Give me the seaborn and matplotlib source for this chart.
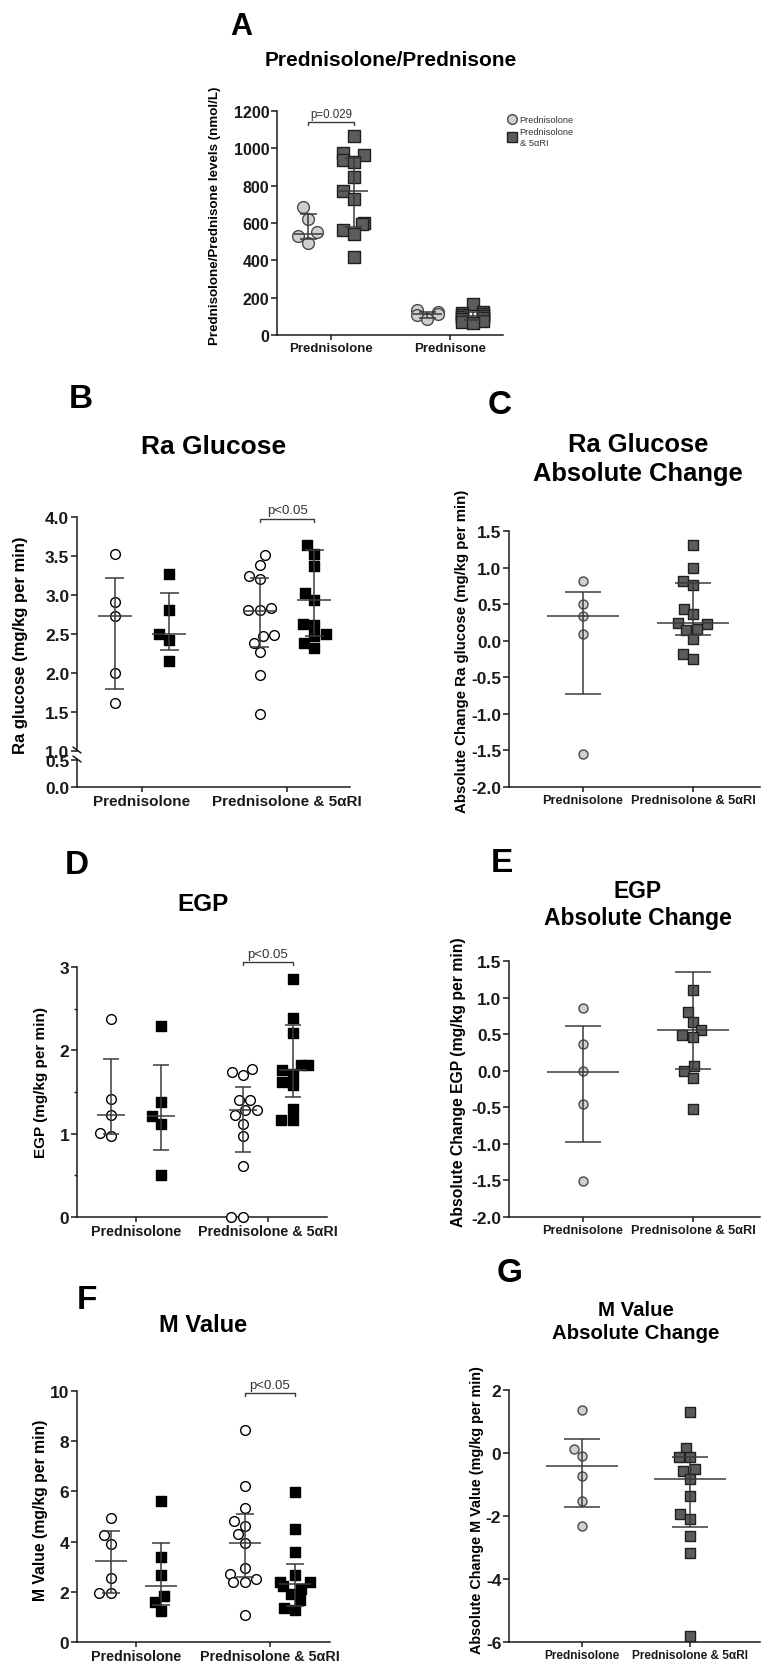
import numpy as np
import pandas as pd
import matplotlib
matplotlib.use("Agg")
import matplotlib.pyplot as plt
import seaborn as sns
from matplotlib.lines import Line2D
from matplotlib.ticker import FormatStrFormatter, MultipleLocator

# values
# A: levels in nmol/L, circles = Prednisolone, squares = Prednisolone & 5aRI
a_cats = ["Prednisolone", "Prednisone"]
a_legend = ["Prednisolone", "Prednisolone\n& 5αRI"]
a_solone_pred = [685, 620, 550, 530, 495]
a_solone_5ari = [1065, 975, 965, 935, 925, 845, 770, 730, 600, 595, 565, 540, 420]
a_sone_pred = [135, 125, 110, 105, 85]
a_sone_5ari = [165, 125, 120, 115, 105, 100, 95, 90, 85, 75, 70, 65]
a_mid = [540, 770, 110, 100]
a_low = [512, 578, 92, 82]
a_high = [650, 950, 122, 122]

# B-G: circles = before, squares = after, for each treatment arm
arm_cats = ["Prednisolone", "Prednisolone & 5αRI"]

b_pred_before = [3.52, 2.91, 2.73, 2.00, 1.61]
b_pred_after = [3.27, 2.81, 2.50, 2.42, 2.16]
b_5ari_before = [3.51, 3.38, 3.25, 3.21, 2.81, 2.81, 2.83, 2.48, 2.49, 2.39, 2.27, 1.97, 1.48]
b_5ari_after = [3.64, 3.53, 3.37, 3.02, 2.94, 2.63, 2.62, 2.50, 2.47, 2.39, 2.32]
b_mid = [2.73, 2.50, 2.80, 2.93]
b_low = [1.80, 2.30, 2.33, 2.48]
b_high = [3.22, 3.03, 3.22, 3.58]

c_pred = [0.82, 0.50, 0.34, 0.09, -1.55]
c_5ari = [1.31, 0.99, 0.81, 0.76, 0.44, 0.36, 0.24, 0.23, 0.16, 0.14, 0.03, -0.18, -0.25]
c_mid = [0.34, 0.24]
c_low = [-0.73, 0.08]
c_high = [0.66, 0.79]

d_pred_before = [2.38, 1.42, 1.22, 1.01, 0.97]
d_pred_after = [2.29, 1.38, 1.21, 1.12, 0.51]
d_5ari_before = [1.78, 1.74, 1.70, 1.41, 1.40, 1.29, 1.29, 1.22, 1.12, 0.97, 0.61, 0.0, 0.0]
d_5ari_after = [2.86, 2.39, 2.21, 1.82, 1.82, 1.77, 1.72, 1.62, 1.58, 1.30, 1.16, 1.16]
d_mid = [1.22, 1.21, 1.29, 1.77]
d_low = [1.00, 0.81, 0.78, 1.44]
d_high = [1.90, 1.83, 1.56, 2.30]

e_pred = [0.86, 0.36, -0.01, -0.45, -1.51]
e_5ari = [1.11, 0.80, 0.67, 0.55, 0.49, 0.46, 0.06, -0.01, -0.10, -0.52]
e_mid = [-0.02, 0.55]
e_low = [-0.98, 0.03]
e_high = [0.61, 1.35]

f_pred_before = [4.93, 4.26, 3.91, 2.54, 1.95, 1.95]
f_pred_after = [5.60, 3.40, 2.68, 1.85, 1.59, 1.22]
f_5ari_before = [8.45, 6.20, 5.32, 4.83, 4.64, 4.30, 3.95, 2.94, 2.72, 2.52, 2.41, 2.41, 1.06]
f_5ari_after = [5.96, 4.50, 3.58, 2.68, 2.41, 2.38, 2.25, 2.12, 1.92, 1.66, 1.35, 1.26]
f_mid = [3.22, 2.25, 3.95, 2.30]
f_low = [1.95, 1.48, 2.60, 1.45]
f_high = [4.41, 3.95, 5.09, 3.11]

g_pred = [1.37, 0.14, -0.09, -0.74, -1.51, -2.31]
g_5ari = [1.30, 0.17, -0.14, -0.14, -0.51, -0.56, -0.81, -1.36, -1.94, -2.10, -2.62, -3.18, -5.81]
g_mid = [-0.41, -0.81]
g_low = [-1.70, -2.36]
g_high = [0.44, -0.14]

# ------------------------------------------------------------------
W, H = 761, 1665
INK = "#1a1a1a"
LINE = "#3a3a3a"
OPEN = dict(marker="o", face="white", edge="black")
BLACK = dict(marker="s", face="black", edge="black")
LGREY = dict(marker="o", face="#cfcfcf", edge="#4a4a4a")
DGREY = dict(marker="s", face="#5c5c5c", edge="#1f1f1f")

sns.set_style("ticks")
plt.rcParams["font.family"] = ["Liberation Sans", "DejaVu Sans"]
plt.rcParams.update({
    "font.weight": "bold",
    "axes.labelweight": "bold",
    "axes.linewidth": 1.1,
    "axes.edgecolor": INK,
    "xtick.color": INK,
    "ytick.color": INK,
    "xtick.major.width": 1.1,
    "ytick.major.width": 1.1,
    "ytick.minor.width": 1.0,
    "xtick.major.size": 3.5,
    "ytick.major.size": 4,
    "ytick.minor.size": 2.5,
    "xtick.major.pad": 1.5,
    "ytick.major.pad": 1.5,
    "axes.unicode_minus": False,
})

fig = plt.figure(figsize=(W / 100, H / 100), dpi=100)


def px_axes(l, t, r, b):
    return fig.add_axes([l / W, 1 - b / H, (r - l) / W, (b - t) / H])


def fig_text(x, y, s, size, **kw):
    fig.text(x / W, 1 - y / H, s, ha="center", va="center", fontsize=size,
             fontweight="bold", color="black", **kw)


def swarm(ax, x, values, style, size, lw=1.0):
    df = pd.DataFrame({"x": np.full(len(values), float(x)), "y": values})
    sns.swarmplot(data=df, x="x", y="y", native_scale=True, orient="x",
                  marker=style["marker"], color=style["face"],
                  edgecolor=style["edge"], linewidth=lw, size=size,
                  warn_thresh=1, zorder=3, ax=ax)


def bars(ax, x, mid, low, high, mid_w, cap_w):
    kw = dict(color=LINE, lw=1.1, zorder=5)
    ax.vlines(x, low, high, **kw)
    ax.hlines([low, high], x - cap_w, x + cap_w, **kw)
    ax.hlines(mid, x - mid_w, x + mid_w, **kw)


def draw(ax, u, cats_x, series, styles, mids, lows, highs, size, mid_w, cap_w):
    for x, vals, st, m, lo, hi in zip(cats_x, series, styles, mids, lows, highs):
        swarm(ax, u * x, vals, st, size)
        bars(ax, u * x, m, lo, hi, u * mid_w, u * cap_w)
    for coll in ax.collections:
        coll.set_clip_on(False)


def finish(ax, u, xlim, ylim, yticks, yfmt, ytick_fs, xlabels, xtick_fs):
    sns.despine(ax=ax)
    ax.set_xlim(u * xlim[0], u * xlim[1])
    ax.set_ylim(*ylim)
    ax.set_yticks(yticks)
    if yfmt:
        ax.yaxis.set_major_formatter(FormatStrFormatter(yfmt))
    ax.tick_params(axis="y", labelsize=ytick_fs)
    if xlabels is None:
        ax.set_xticks([])
    else:
        ax.set_xticks([0, u], xlabels, fontsize=xtick_fs, fontweight="bold")
    ax.set_xlabel("")
    ax.set_ylabel("")


def ylabel(ax, text, x, y, size):
    ax.set_ylabel(text, fontsize=size, fontweight="bold", va="center", color="black")
    ax.yaxis.set_label_coords(x / W, 1 - y / H, transform=fig.transFigure)


def bracket(ax, x0, x1, y, drop, text, size):
    ax.plot([x0, x0, x1, x1], [y - drop, y, y, y - drop], color=LINE, lw=1.0,
            clip_on=False, zorder=5)
    ax.annotate(text, xy=((x0 + x1) / 2, y), xytext=(0, 1.5), textcoords="offset points",
                ha="center", va="bottom", fontsize=size, fontweight="normal", color="#333333",
                annotation_clip=False)


# ---------------- A ----------------
uA, dA = 4.44, 0.19
axA = px_axes(277, 112, 503, 336)
draw(axA, uA, [-dA, dA, 1 - dA, 1 + dA],
     [a_solone_pred, a_solone_5ari, a_sone_pred, a_sone_5ari],
     [LGREY, DGREY, LGREY, DGREY], a_mid, a_low, a_high, 8.5, 0.12, 0.07)
finish(axA, uA, (-0.454, 1.445), (0, 1200), np.arange(0, 1201, 200), None, 11.5, a_cats, 9.5)
ylabel(axA, "Prednisolone/Prednisone levels (nmol/L)", 215, 216, 9.6)
bracket(axA, -dA * uA, dA * uA, 1139, 16, "p=0.029", 8.3)
handles = [Line2D([], [], ls="", marker="o", markersize=7, markerfacecolor=LGREY["face"],
                  markeredgecolor=LGREY["edge"]),
           Line2D([], [], ls="", marker="s", markersize=7, markerfacecolor=DGREY["face"],
                  markeredgecolor=DGREY["edge"])]
axA.legend(handles, a_legend, loc="upper left", bbox_to_anchor=(507 / W, 1 - 116 / H),
           bbox_transform=fig.transFigure, frameon=False, handlelength=1.0,
           handletextpad=0.35, borderpad=0, borderaxespad=0, labelspacing=0.35,
           prop={"size": 6.7, "weight": "normal"}, labelcolor="#333333")
fig_text(241, 27, "A", 22)
fig_text(391, 60, "Prednisolone/Prednisone", 15)

# ---------------- B (broken axis) ----------------
uB, dB = 4.0, 0.187
axB = px_axes(77, 518, 350, 752)
axB0 = px_axes(77, 761, 350, 788)
draw(axB, uB, [-dB, dB, 1 - dB, 1 + dB],
     [b_pred_before, b_pred_after, b_5ari_before, b_5ari_after],
     [OPEN, BLACK, OPEN, BLACK], b_mid, b_low, b_high, 7, 0.115, 0.066)
finish(axB, uB, (-0.448, 1.434), (1.0, 4.0), np.arange(1.0, 4.01, 0.5), "%.1f", 12.5, None, 11)
axB.spines["bottom"].set_visible(False)
finish(axB0, uB, (-0.448, 1.434), (0, 0.5), [0.0, 0.5], "%.1f", 12.5, arm_cats, 11)
ylabel(axB, "Ra glucose (mg/kg per min)", 21, 645, 12)
bracket(axB, (1 - dB) * uB, (1 + dB) * uB, 3.98, 0.04, "p<0.05", 9.5)
for y0 in (748, 757):
    fig.add_artist(Line2D([73 / W, 81 / W], [1 - y0 / H, 1 - (y0 + 6) / H],
                          color=INK, lw=1.1, transform=fig.transFigure))
fig_text(81, 400, "B", 24)
fig_text(214, 447, "Ra Glucose", 19)

# ---------------- C ----------------
uC = 2.67
axC = px_axes(509, 532, 760, 788)
draw(axC, uC, [0, 1], [c_pred, c_5ari], [LGREY, DGREY], c_mid, c_low, c_high, 6.5, 0.33, 0.16)
finish(axC, uC, (-0.673, 1.61), (-2.0, 1.5), np.arange(-2.0, 1.51, 0.5), "%.1f", 12.5, arm_cats, 9.2)
ylabel(axC, "Absolute Change Ra glucose (mg/kg per min)", 462, 651, 10.8)
fig_text(500, 406, "C", 24)
fig_text(638, 445, "Ra Glucose", 18.4)
fig_text(638, 474, "Absolute Change", 18.4)

# ---------------- D ----------------
uD, dD = 3.6, 0.19
axD = px_axes(77, 968, 327, 1218)
draw(axD, uD, [-dD, dD, 1 - dD, 1 + dD],
     [d_pred_before, d_pred_after, d_5ari_before, d_5ari_after],
     [OPEN, BLACK, OPEN, BLACK], d_mid, d_low, d_high, 7, 0.107, 0.06)
finish(axD, uD, (-0.447, 1.447), (0, 3), [0, 1, 2, 3], None, 12.5, arm_cats, 10.3)
axD.yaxis.set_minor_locator(MultipleLocator(0.5))
ylabel(axD, "EGP (mg/kg per min)", 41, 1082, 11)
bracket(axD, (1 - dD) * uD, (1 + dD) * uD, 3.06, 0.036, "p<0.05", 9.5)
fig_text(77, 866, "D", 24)
fig_text(203, 905, "EGP", 17.5)

# ---------------- E ----------------
uE = 2.67
axE = px_axes(509, 962, 760, 1218)
draw(axE, uE, [0, 1], [e_pred, e_5ari], [LGREY, DGREY], e_mid, e_low, e_high, 6.5, 0.33, 0.16)
finish(axE, uE, (-0.673, 1.61), (-2.0, 1.5), np.arange(-2.0, 1.51, 0.5), "%.1f", 12.5, arm_cats, 9.2)
ylabel(axE, "Absolute Change EGP (mg/kg per min)", 458, 1082, 11.3)
fig_text(502, 864, "E", 24)
fig_text(638, 892, "EGP", 16.5)
fig_text(638, 919, "Absolute Change", 16.5)

# ---------------- F ----------------
uF, dF = 3.6, 0.187
axF = px_axes(77, 1392, 330, 1643)
draw(axF, uF, [-dF, dF, 1 - dF, 1 + dF],
     [f_pred_before, f_pred_after, f_5ari_before, f_5ari_after],
     [OPEN, BLACK, OPEN, BLACK], f_mid, f_low, f_high, 7, 0.12, 0.065)
finish(axF, uF, (-0.44, 1.448), (0, 10), np.arange(0, 11, 2), None, 12.5, arm_cats, 10.3)
ylabel(axF, "M Value (mg/kg per min)", 41, 1510, 11.3)
bracket(axF, (1 - dF) * uF, (1 + dF) * uF, 9.92, 0.12, "p<0.05", 9.5)
fig_text(87, 1301, "F", 24)
fig_text(203, 1325, "M Value", 17)

# ---------------- G ----------------
uG = 2.67
axG = px_axes(509, 1391, 760, 1643)
draw(axG, uG, [0, 1], [g_pred, g_5ari], [LGREY, DGREY], g_mid, g_low, g_high, 6.5, 0.33, 0.17)
finish(axG, uG, (-0.676, 1.648), (-6, 2), [-6, -4, -2, 0, 2], None, 12.5, arm_cats, 8.6)
ylabel(axG, "Absolute Change M Value (mg/kg per min)", 477, 1510, 10.4)
fig_text(510, 1274, "G", 24)
fig_text(636, 1310, "M Value", 14.7)
fig_text(636, 1334, "Absolute Change", 14.7)

fig.savefig("out.png", dpi=100)
